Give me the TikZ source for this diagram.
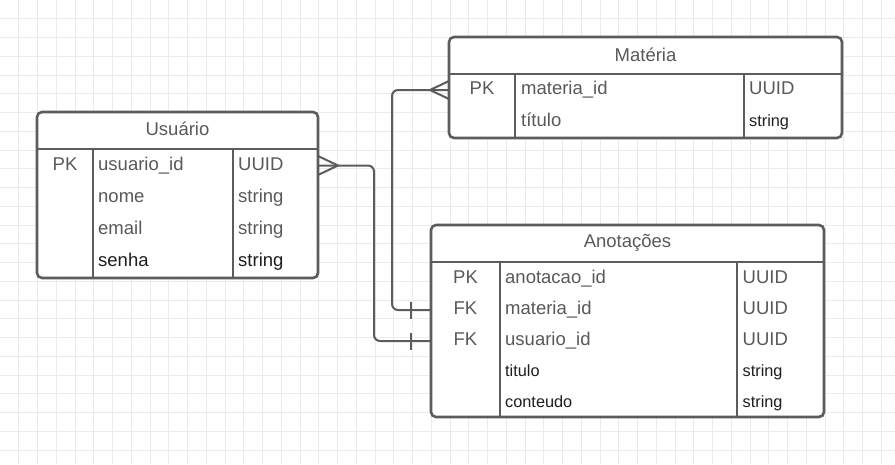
\documentclass[tikz,border=0pt]{standalone}
\usepackage{fontspec}
\setmainfont{Liberation Sans}
\usepackage{xcolor}
\definecolor{er-line}{HTML}{5C5C5C}
\definecolor{er-text}{HTML}{595959}
\definecolor{er-dark}{HTML}{1E1E1E}
\definecolor{grid-gray}{HTML}{EBEBEB}
\tikzset{
    table-box/.style = {draw=er-line, fill=white, line width=2.6pt, rectangle, rounded corners=5pt, outer sep=0pt, inner sep=0pt, anchor=north west},
    table-rule/.style = {draw=er-line, line width=2.6pt},
    table-title/.style = {text=er-text, inner sep=0pt, text height=13pt, text depth=4pt, font=\fontsize{18.5}{22}\selectfont},
    field/.style = {anchor=west, inner sep=0pt, text height=13pt, text depth=4pt, text=er-text, font=\fontsize{18.5}{22}\selectfont},
    field-dark/.style = {field, text=er-dark},
    field-small/.style = {field, text=er-dark, text height=11.5pt, text depth=3.5pt, font=\fontsize{16.3}{20}\selectfont},
    key-col/.style = {field, anchor=center},
    rel-line/.style = {draw=er-line, line width=2pt},
    grid-line/.style = {draw=grid-gray, line width=1pt},
}

\begin{document}
\begin{tikzpicture}[x=1pt, y=-1pt]
\fill[white] (0,0) rectangle (895,464);
\useasboundingbox (0,0) rectangle (895,464);
% background grid
\foreach \i in {1,...,47} \draw[grid-line] (\i*18.75,0) -- (\i*18.75,464);
\foreach \j in {1,...,24} \draw[grid-line] (0,\j*18.75) -- (895,\j*18.75);

% Usuario
\node[table-box, minimum width=281pt, minimum height=166pt] (usuario) at (37,112) {};
\draw[table-rule] (37,149) -- (318,149);
\draw[table-rule] (93,149) -- (93,278) (233,149) -- (233,278);
\node[table-title] (usuario-title) at (177.5,131) {Usuário};
\node[key-col] (u-pk) at (65,165.5) {PK};
\node[field] (u-id) at (98,165.5) {usuario\_id};
\node[field] (u-id-type) at (238,165.5) {UUID};
\node[field] (u-nome) at (98,197.5) {nome};
\node[field] (u-nome-type) at (238,197.5) {string};
\node[field] (u-email) at (98,229.5) {email};
\node[field] (u-email-type) at (238,229.5) {string};
\node[field-dark] (u-senha) at (98,261.5) {senha};
\node[field-dark] (u-senha-type) at (238,261.5) {string};

% Materia
\node[table-box, minimum width=393pt, minimum height=101pt] (materia) at (449,37) {};
\draw[table-rule] (449,74) -- (842,74);
\draw[table-rule] (515,74) -- (515,138) (744,74) -- (744,138);
\node[table-title] (materia-title) at (645.5,57) {Matéria};
\node[key-col] (m-pk) at (482,90) {PK};
\node[field] (m-id) at (521,90) {materia\_id};
\node[field] (m-id-type) at (749,90) {UUID};
\node[field] (m-titulo) at (521,122) {título};
\node[field-small] (m-titulo-type) at (749,122.5) {string};

% Anotacoes
\node[table-box, minimum width=393pt, minimum height=192pt] (anotacoes) at (431,225) {};
\draw[table-rule] (431,262) -- (824,262);
\draw[table-rule] (500,262) -- (500,417) (737,262) -- (737,417);
\node[table-title] (anotacoes-title) at (627.5,243) {Anotações};
\node[key-col] (a-pk) at (465.5,279) {PK};
\node[field] (a-id) at (505,279) {anotacao\_id};
\node[field] (a-id-type) at (742.5,279) {UUID};
\node[key-col] (a-fk1) at (465.5,310) {FK};
\node[field] (a-materia) at (505,310) {materia\_id};
\node[field] (a-materia-type) at (742.5,310) {UUID};
\node[key-col] (a-fk2) at (465.5,341) {FK};
\node[field] (a-usuario) at (505,341) {usuario\_id};
\node[field] (a-usuario-type) at (742.5,341) {UUID};
\node[field-small] (a-titulo) at (505,372.5) {titulo};
\node[field-small] (a-titulo-type) at (742.5,372.5) {string};
\node[field-small] (a-conteudo) at (505,403) {conteudo};
\node[field-small] (a-conteudo-type) at (742.5,403) {string};

% relations
\draw[rel-line, rounded corners=6pt] (materia.west |- m-id) -- ++(-57,0) |- (anotacoes.west |- a-materia);
\draw[rel-line, rounded corners=6pt] (usuario.east |- u-id) -- ++(56,0) |- (anotacoes.west |- a-usuario);
% many ends
\draw[rel-line] (materia.west |- m-id) ++(0,-9) -- ++(-19,9) -- ++(19,9);
\draw[rel-line] (usuario.east |- u-id) ++(0,-9.5) -- ++(20,9.5) -- ++(-20,9.5);
% one ends
\draw[rel-line] (anotacoes.west |- a-materia) ++(-20,-8.5) -- ++(0,17);
\draw[rel-line] (anotacoes.west |- a-usuario) ++(-20,-8.5) -- ++(0,17);
\end{tikzpicture}
\end{document}
